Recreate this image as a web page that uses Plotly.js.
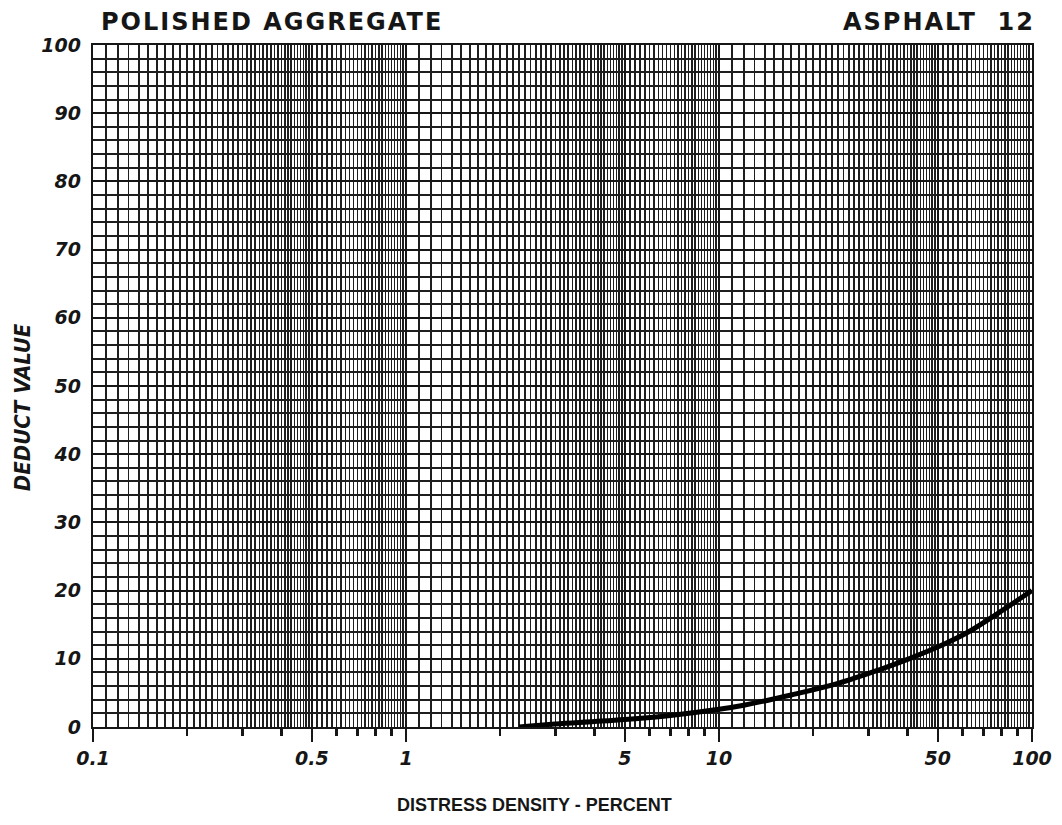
<!DOCTYPE html>
<html>
<head>
<meta charset="utf-8">
<script src="https://cdn.plot.ly/plotly-3.0.1.min.js"></script>
<style>
  html, body { margin: 0; padding: 0; background: #fff; }
  #chart { width: 1062px; height: 825px; }
  /* wide hand-lettered look for the two header captions */
  #chart text.annotation-text[data-unformatted^="POLISHED"],
  #chart text.annotation-text[data-unformatted^="ASPHALT"] { letter-spacing: 2px; }
</style>
</head>
<body>
<div id="chart"></div>
<script>
// Deduct value curve: polished aggregate, asphalt pavement (distress 12)
const densityPct = [2.3, 3, 4, 5, 7, 10, 12, 17, 24, 33, 41, 51, 63, 78, 100];
const deductValue = [0, 0.45, 0.8, 1.1, 1.7, 2.6, 3.2, 4.7, 6.4, 8.5, 10.1, 11.9, 14.0, 16.7, 20];

// Axis labelling
const xLabelVals = [0.1, 0.5, 1, 5, 10, 50, 100];
const xLabelText = ['0.1', '0.5', '1', '5', '10', '50', '100'];
const xShortTicks = [0.2, 0.3, 0.4, 0.6, 0.7, 0.8, 0.9, 2, 3, 4, 6, 7, 8, 9, 20, 30, 40, 60, 70, 80, 90];
const yLabelVals = [0, 10, 20, 30, 40, 50, 60, 70, 80, 90, 100];

// Semi-log paper rulings: fine steps below 5, coarser steps from 5 to 10 in each decade
const decades = [0.1, 1, 10];
const fineLines = [];
decades.forEach(d => {
  for (let k = 10; k < 50; k++) fineLines.push(+(d * k / 10).toPrecision(6));
  for (let k = 50; k < 100; k += 2) fineLines.push(+(d * k / 10).toPrecision(6));
});

const ink = '#161616';
const labelFont = { family: 'DejaVu Sans', size: 19, color: ink, weight: 'bold', style: 'italic' };

const traces = [
  {
    x: densityPct, y: deductValue, xaxis: 'x', yaxis: 'y',
    mode: 'lines', line: { color: '#000', width: 5, shape: 'spline', smoothing: 1 },
    hoverinfo: 'x+y', showlegend: false
  },
  {
    // carrier for the short tick axis
    x: [1], y: [0], xaxis: 'x2', yaxis: 'y',
    mode: 'markers', marker: { opacity: 0 }, hoverinfo: 'skip', showlegend: false
  }
];

const layout = {
  width: 1062, height: 825,
  margin: { l: 93, r: 30, t: 45, b: 98 },
  paper_bgcolor: '#fff', plot_bgcolor: '#fff',
  showlegend: false,
  xaxis: {
    type: 'log', range: [-1, 2], fixedrange: true,
    tickmode: 'array', tickvals: xLabelVals, ticktext: xLabelText,
    ticks: 'outside', ticklen: 13, tickwidth: 2.5, tickcolor: ink,
    tickfont: labelFont,
    showgrid: true, gridcolor: ink, gridwidth: 2.2,
    minor: { tickmode: 'array', tickvals: fineLines, showgrid: true, gridcolor: '#1e1e1e', gridwidth: 1.6, ticks: '' },
    showline: true, linecolor: ink, linewidth: 2.2, mirror: true,
    zeroline: false
  },
  xaxis2: {
    type: 'log', range: [-1, 2], overlaying: 'x', side: 'bottom', fixedrange: true,
    tickmode: 'array', tickvals: xShortTicks, showticklabels: false,
    ticks: 'outside', ticklen: 8, tickwidth: 2.5, tickcolor: ink,
    showgrid: false, showline: false, zeroline: false
  },
  yaxis: {
    range: [0, 100], fixedrange: true,
    tickmode: 'array', tickvals: yLabelVals, ticks: '',
    tickfont: labelFont, ticklabelstandoff: 6,
    showgrid: true, gridcolor: ink, gridwidth: 2,
    minor: { dtick: 2, showgrid: true, gridcolor: '#1e1e1e', gridwidth: 2 },
    showline: true, linecolor: ink, linewidth: 2.2, mirror: true,
    zeroline: false
  },
  annotations: [
    {
      text: 'POLISHED AGGREGATE', xref: 'paper', yref: 'paper', x: 0.0256, y: 1, yshift: 7,
      xanchor: 'left', yanchor: 'bottom', showarrow: false,
      font: { family: 'DejaVu Sans', size: 24, color: ink, weight: 'bold' }
    },
    {
      text: 'ASPHALT  12', xref: 'paper', yref: 'paper', x: 0.9936, y: 1, yshift: 7,
      xanchor: 'right', yanchor: 'bottom', showarrow: false,
      font: { family: 'DejaVu Sans', size: 24, color: ink, weight: 'bold' }
    },
    {
      text: 'DEDUCT VALUE', xref: 'paper', yref: 'paper', x: -0.0756, y: 0.469,
      xanchor: 'center', yanchor: 'middle', textangle: -90, showarrow: false,
      font: { family: 'DejaVu Sans Condensed', size: 22, color: ink, weight: 'bold', style: 'italic' }
    },
    {
      text: 'DISTRESS DENSITY - PERCENT', xref: 'paper', yref: 'paper', x: 0.4707, y: -0.1144,
      xanchor: 'center', yanchor: 'middle', showarrow: false,
      font: { family: 'Liberation Sans', size: 18, color: ink, weight: 'bold' }
    }
  ]
};

Plotly.newPlot('chart', traces, layout, { displayModeBar: false, staticPlot: true });
</script>
</body>
</html>
